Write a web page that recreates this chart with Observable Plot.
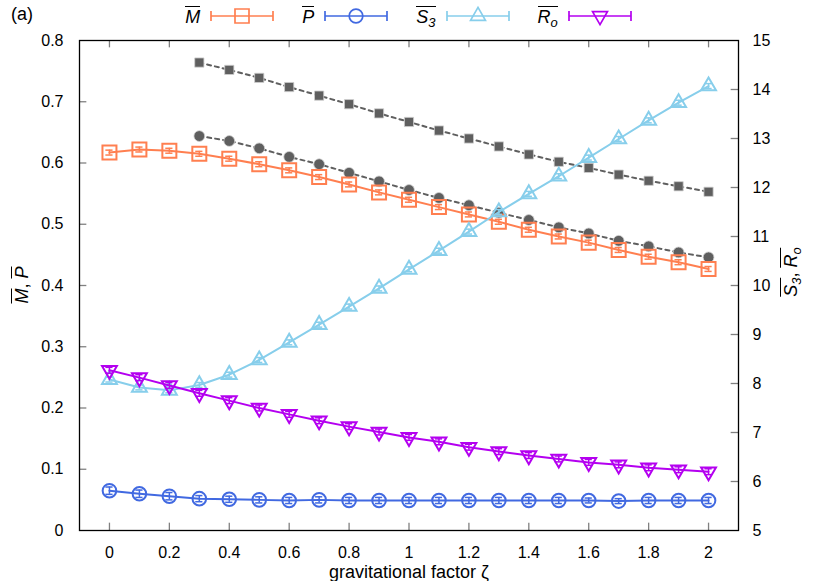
<!DOCTYPE html>
<html><head><meta charset="utf-8">
<script src="https://cdn.jsdelivr.net/npm/d3@7"></script>
<script src="https://cdn.jsdelivr.net/npm/@observablehq/plot@0.6"></script>
<style>
body{margin:0;background:#fff;font-family:"Liberation Sans",Arial,Helvetica,sans-serif;color:#000;}
#wrap{position:relative;width:830px;height:581px;overflow:hidden;}
#top{height:30px;position:relative;}
#legend{position:absolute;left:79px;width:659px;top:1px;height:30px;display:flex;justify-content:center;align-items:center;font-size:18px;}
.entry{display:flex;align-items:center;margin:0 14px;}
.entry svg{margin-left:10px;display:block;}
.ov{display:inline-block;border-top:1.3px solid currentColor;line-height:1.0;padding-top:1px;}
.sb{font-size:0.72em;position:relative;top:0.3em;}
.ylab{position:absolute;transform:translate(-50%,-50%) rotate(-90deg);white-space:nowrap;font-size:18px;}
#xlab{position:absolute;left:409px;top:572px;transform:translate(-50%,-50%);white-space:nowrap;font-size:18px;}
#tag{position:absolute;left:11px;top:4px;font-size:18px;}
</style></head><body>
<div id="wrap">
  <div id="top"><div id="tag">(a)</div><div id="legend"></div></div>
  <div id="chart"></div>
  <div class="ylab" style="left:22px;top:285px;"><span class="ov"><i>M</i></span>, <span class="ov"><i>P</i></span></div>
  <div class="ylab" style="left:791px;top:272px;"><span class="ov"><i>S</i><span class="sb"><i>3</i></span></span>, <span class="ov"><i>R</i><span class="sb"><i>o</i></span></span></div>
  <div id="xlab"></div>
</div>
<script>
// ---- data ----
const zeta = [0,0.1,0.2,0.3,0.4,0.5,0.6,0.7,0.8,0.9,1.0,1.1,1.2,1.3,1.4,1.5,1.6,1.7,1.8,1.9,2.0];
const M    = [0.617,0.622,0.620,0.615,0.607,0.598,0.588,0.577,0.565,0.552,0.540,0.528,0.516,0.504,0.491,0.480,0.470,0.458,0.447,0.438,0.427];
const Merr = [0.004,0.004,0.004,0.004,0.004,0.004,0.004,0.004,0.004,0.004,0.004,0.004,0.004,0.004,0.004,0.004,0.004,0.004,0.004,0.004,0.004];
const P    = [0.065,0.060,0.056,0.052,0.051,0.050,0.049,0.050,0.049,0.049,0.049,0.049,0.049,0.049,0.049,0.049,0.049,0.048,0.049,0.049,0.049];
const Perr = [0.006,0.006,0.006,0.005,0.005,0.005,0.005,0.005,0.005,0.005,0.005,0.005,0.005,0.005,0.005,0.005,0.004,0.004,0.005,0.005,0.005];
const S3   = [8.08,7.92,7.86,7.97,8.18,8.48,8.84,9.20,9.57,9.94,10.33,10.71,11.10,11.50,11.87,12.23,12.61,12.99,13.37,13.73,14.07];
const S3err= [0.05,0.05,0.05,0.05,0.05,0.05,0.05,0.05,0.05,0.05,0.05,0.05,0.05,0.05,0.05,0.05,0.05,0.05,0.05,0.05,0.05];
const Ro   = [8.27,8.12,7.96,7.80,7.65,7.50,7.37,7.24,7.12,7.01,6.90,6.81,6.70,6.61,6.53,6.46,6.39,6.34,6.28,6.24,6.20];
const RoErr= [0.06,0.06,0.06,0.06,0.06,0.06,0.06,0.06,0.06,0.06,0.06,0.06,0.06,0.06,0.06,0.06,0.06,0.06,0.06,0.06,0.06];
const zetaGray = [0.3,0.4,0.5,0.6,0.7,0.8,0.9,1.0,1.1,1.2,1.3,1.4,1.5,1.6,1.7,1.8,1.9,2.0];
const graySq   = [0.764,0.752,0.739,0.724,0.710,0.696,0.681,0.667,0.653,0.640,0.627,0.614,0.602,0.592,0.581,0.571,0.562,0.553];
const grayCi   = [0.644,0.636,0.624,0.610,0.598,0.584,0.570,0.556,0.543,0.531,0.519,0.507,0.495,0.485,0.473,0.464,0.454,0.446];
const xTicks = [0,0.2,0.4,0.6,0.8,1,1.2,1.4,1.6,1.8,2];
const xTickLabels = ["0","0.2","0.4","0.6","0.8","1","1.2","1.4","1.6","1.8","2"];
const yTicks = [0,0.1,0.2,0.3,0.4,0.5,0.6,0.7,0.8];
const yTickLabels = ["0","0.1","0.2","0.3","0.4","0.5","0.6","0.7","0.8"];
const y2Ticks = [5,6,7,8,9,10,11,12,13,14,15];
const y2TickLabels = ["5","6","7","8","9","10","11","12","13","14","15"];
const xLabel = "gravitational factor ζ";

// ---- styles ----
const C = {M:"#ff7f50", P:"#4169e1", S:"#87ceeb", R:"#b400f0", G:"#5f5f5f", tick:"#808080"};
const y2min = 5, y2max = 15, ymax = 0.8;
const toL = v => (v - y2min) / (y2max - y2min) * ymax;

const symSquare = {draw(c, size){ const h = Math.sqrt(size)/2; c.moveTo(-h,-h); c.lineTo(h,-h); c.lineTo(h,h); c.lineTo(-h,h); c.closePath(); }};
const symUp = {draw(c, size){ const R = Math.sqrt(size/Math.PI); const u = R*Math.sqrt(3)/2; c.moveTo(0,-R); c.lineTo(u,R/2); c.lineTo(-u,R/2); c.closePath(); }};
const symDown = {draw(c, size){ const R = Math.sqrt(size/Math.PI); const u = R*Math.sqrt(3)/2; c.moveTo(0,R); c.lineTo(u,-R/2); c.lineTo(-u,-R/2); c.closePath(); }};

const mk = (xs, ys, es) => xs.map((x,i)=>({x, y: ys[i], e: es ? es[i] : 0}));
const dM = mk(zeta, M, Merr);
const dP = mk(zeta, P, Perr);
const dS = mk(zeta, S3.map(toL), S3err.map(e => e/(y2max-y2min)*ymax));
const dR = mk(zeta, Ro.map(toL), RoErr.map(e => e/(y2max-y2min)*ymax));
const dGS = mk(zetaGray, graySq);
const dGC = mk(zetaGray, grayCi);

const cap = 0.012;
function series(data, color, sym, r){
  return [
    Plot.line(data, {x:"x", y:"y", stroke:color, strokeWidth:2}),
    Plot.ruleX(data, {x:"x", y1:d=>d.y-d.e, y2:d=>d.y+d.e, stroke:color, strokeWidth:1.5}),
    Plot.ruleY(data, {y:d=>d.y-d.e, x1:d=>d.x-cap, x2:d=>d.x+cap, stroke:color, strokeWidth:1.5}),
    Plot.ruleY(data, {y:d=>d.y+d.e, x1:d=>d.x-cap, x2:d=>d.x+cap, stroke:color, strokeWidth:1.5}),
    Plot.dot(data, {x:"x", y:"y", symbol:sym, r, stroke:color, strokeWidth:2, fill:"none"})
  ];
}

const xmin = -0.1, xmax = 2.1;
const tx = 0.0245, ty = 0.012;
const chart = Plot.plot({
  width: 830, height: 551,
  marginLeft: 79, marginRight: 92, marginTop: 10, marginBottom: 51,
  style: {fontFamily: '"Liberation Sans", Arial, sans-serif', fontSize: "16px", background: "white", color: "black"},
  x: {domain: [xmin, xmax]},
  y: {domain: [0, ymax]},
  marks: [
    Plot.ruleX(xTicks, {x:d=>d, y1:0, y2:ty, stroke:C.tick, strokeWidth:1.3}),
    Plot.ruleX(xTicks, {x:d=>d, y1:ymax, y2:ymax-ty, stroke:C.tick, strokeWidth:1.3}),
    Plot.ruleY(yTicks.slice(1,-1), {y:d=>d, x1:xmin, x2:xmin+tx, stroke:C.tick, strokeWidth:1.3}),
    Plot.ruleY(y2Ticks.slice(1,-1).map(toL), {y:d=>d, x1:xmax, x2:xmax-tx, stroke:C.tick, strokeWidth:1.3}),
    Plot.axisX({ticks: xTicks, tickSize: 0, tickPadding: 16, fontSize: 16, label: null,
                tickFormat: d => xTickLabels[xTicks.indexOf(d)]}),
    Plot.axisY({ticks: yTicks, tickSize: 0, tickPadding: 16, fontSize: 16, label: null,
                tickFormat: d => yTickLabels[yTicks.indexOf(d)]}),
    Plot.axisY({anchor: "right", ticks: y2Ticks.map(toL), tickSize: 0, tickPadding: 14, fontSize: 16, label: null,
                tickFormat: (d,i) => y2TickLabels[i]}),
    Plot.line(dGS, {x:"x", y:"y", stroke:C.G, strokeWidth:2, strokeDasharray:"4,4"}),
    Plot.line(dGC, {x:"x", y:"y", stroke:C.G, strokeWidth:2, strokeDasharray:"4,4"}),
    Plot.dot(dGS, {x:"x", y:"y", symbol:symSquare, r:5.2, fill:C.G, stroke:"#cfcfcf", strokeWidth:0.8}),
    Plot.dot(dGC, {x:"x", y:"y", r:5.4, fill:C.G, stroke:"#cfcfcf", strokeWidth:0.8}),
    ...series(dM, C.M, symSquare, 7.9),
    ...series(dP, C.P, "circle", 6.8),
    ...series(dS, C.S, symUp, 8.6),
    ...series(dR, C.R, symDown, 8.6),
    Plot.frame({stroke:"black", strokeWidth:1.3})
  ]
});
document.getElementById("chart").appendChild(chart);
document.getElementById("xlab").textContent = xLabel;

// ---- legend ----
const legendItems = [
  {label:'<span class="ov"><i>M</i></span>', color:C.M, sym:symSquare, r:7.9},
  {label:'<span class="ov"><i>P</i></span>', color:C.P, sym:d3.symbolCircle, r:6.8},
  {label:'<span class="ov"><i>S</i><span class="sb"><i>3</i></span></span>', color:C.S, sym:symUp, r:8.6},
  {label:'<span class="ov"><i>R</i><span class="sb"><i>o</i></span></span>', color:C.R, sym:symDown, r:8.6}
];
const lg = document.getElementById("legend");
for (const it of legendItems){
  const e = document.createElement("div"); e.className = "entry";
  const path = d3.symbol(it.sym, Math.PI*it.r*it.r)();
  e.innerHTML = it.label +
    `<svg width="64" height="24" viewBox="0 0 64 24"><g fill="none" stroke="${it.color}" stroke-width="1.7">
      <line x1="1" y1="12" x2="63" y2="12"/><line x1="1" y1="7" x2="1" y2="17"/><line x1="63" y1="7" x2="63" y2="17"/>
      <path transform="translate(32,12)" d="${path}"/></g></svg>`;
  lg.appendChild(e);
}
</script>
</body></html>
